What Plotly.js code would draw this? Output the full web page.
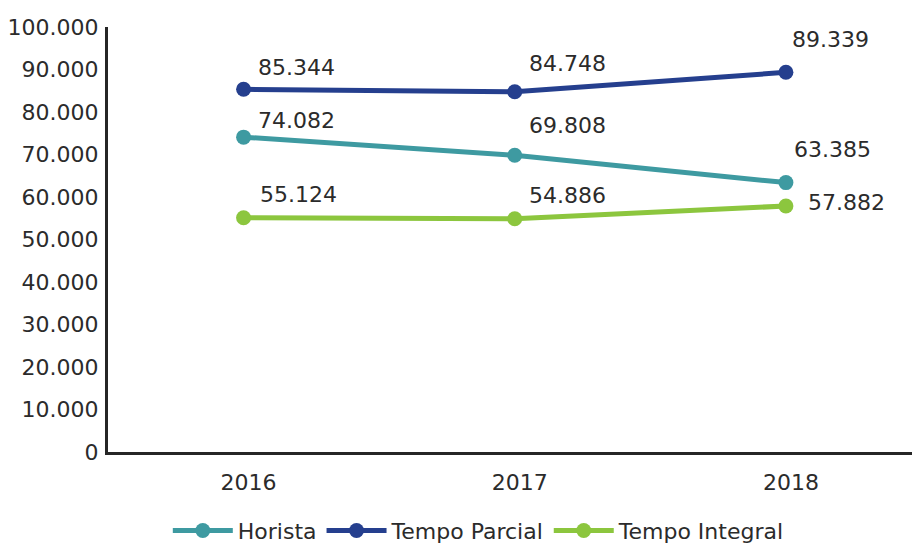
<!DOCTYPE html>
<html>
<head>
<meta charset="utf-8">
<script src="https://cdn.plot.ly/plotly-3.0.1.min.js"></script>
<style>html,body{margin:0;padding:0;background:#fff;}#chart{width:912px;height:546px;}</style>
</head>
<body>
<div id="chart"></div>
<script>
const years = ['2016', '2017', '2018'];
const horista = [74082, 69808, 63385];
const tempoParcial = [85344, 84748, 89339];
const tempoIntegral = [55124, 54886, 57882];
const seriesNames = ['Horista', 'Tempo Parcial', 'Tempo Integral'];
const yTickValues = [0, 10000, 20000, 30000, 40000, 50000, 60000, 70000, 80000, 90000, 100000];

const FONT = 'DejaVu Sans, sans-serif';
const TXT = '#2b2b2b';
const fmt = v => v.toLocaleString('de-DE');

// label placement (pixels right of / above each point), one row per series
const labelShift = [
  [[12, 17], [12, 30], [6, 33]],
  [[12, 22], [12, 28], [4, 33]],
  [[14, 23], [12, 23], [20, 4]]
];

const colors = ['#3E9AA1', '#253F8E', '#8CC63E'];
const allSeries = [horista, tempoParcial, tempoIntegral];

const data = allSeries.map((vals, i) => ({
  type: 'scatter', mode: 'lines+markers', name: seriesNames[i],
  x: years, y: vals,
  line: {color: colors[i], width: 5},
  marker: {color: colors[i], size: 15},
  cliponaxis: false,
  hoverinfo: 'skip'
}));

const annotations = [];
allSeries.forEach((vals, i) => {
  vals.forEach((v, j) => {
    annotations.push({
      x: years.indexOf(years[j]), y: v, xref: 'x', yref: 'y',
      text: fmt(v), showarrow: false,
      xanchor: 'left', yanchor: 'middle',
      xshift: labelShift[i][j][0], yshift: labelShift[i][j][1],
      font: {family: FONT, size: 22, color: TXT}
    });
  });
});

const layout = {
  width: 912, height: 546,
  margin: {l: 108, r: 0, t: 27, b: 94, autoexpand: false},
  paper_bgcolor: '#fff', plot_bgcolor: '#fff',
  separators: ',.',
  font: {family: FONT, size: 22, color: TXT},
  showlegend: true,
  annotations: annotations,
  legend: {
    orientation: 'h', xref: 'container', yref: 'container',
    x: 0.184, xanchor: 'left', y: 0.028, yanchor: 'middle',
    font: {family: FONT, size: 22, color: TXT},
    itemwidth: 60, traceorder: 'normal'
  },
  xaxis: {
    type: 'category', range: [-0.5, 2.465],
    showgrid: false, zeroline: false,
    showline: true, linecolor: '#262626', linewidth: 3,
    ticks: '', ticklabelstandoff: 9, ticklabelshift: 5,
    tickfont: {family: FONT, size: 22, color: TXT}
  },
  yaxis: {
    range: [0, 100000], tickvals: yTickValues,
    tickformat: ',d',
    showgrid: false, zeroline: false,
    showline: true, linecolor: '#262626', linewidth: 3,
    ticks: '', ticklabelstandoff: 2,
    tickfont: {family: FONT, size: 22, color: TXT}
  }
};

Plotly.newPlot('chart', data, layout, {displayModeBar: false, staticPlot: true});
</script>
</body>
</html>
